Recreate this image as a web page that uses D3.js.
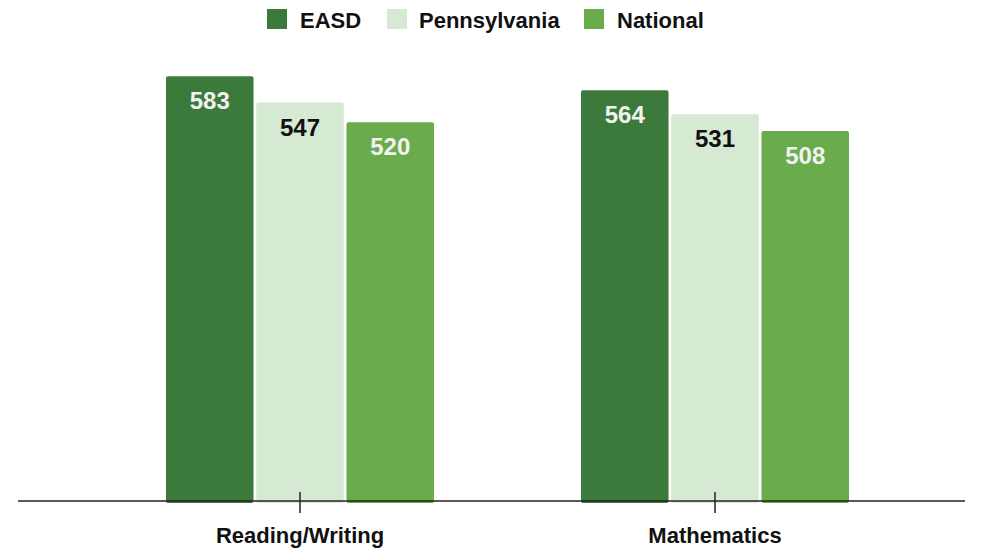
<!DOCTYPE html>
<html><head><meta charset="utf-8">
<script src="https://cdn.jsdelivr.net/npm/d3@7"></script>
<style>body{margin:0;background:#fff}svg{display:block}</style>
</head><body><svg id="c" width="982" height="548"></svg>
<script>
const categories = ["Reading/Writing", "Mathematics"];
const seriesNames = ["EASD", "Pennsylvania", "National"];
const easd = [583, 564];
const pennsylvania = [547, 531];
const national = [520, 508];
const colors = ["#3b7a3b", "#d6e9d3", "#6aab4c"];
const labelColors = ["#f2f2f2", "#111111", "#f2f2f2"];

const values = [easd, pennsylvania, national];
const svg = d3.select("#c");
const baseY = 501;
const y = d3.scaleLinear().domain([0, 600]).range([baseY, baseY - 600 * 0.7285]);
const x0 = d3.scaleBand().domain(categories).range([92.5, 922.5]).padding(0);
const x1 = d3.scaleBand().domain(seriesNames).range([73.5, 341.5]).paddingInner(0.03).paddingOuter(0);

categories.forEach((cat, ci) => {
  const g = svg.append("g").attr("transform", `translate(${x0(cat)},0)`);
  seriesNames.forEach((s, si) => {
    const v = values[si][ci];
    g.append("rect")
      .attr("x", x1(s)).attr("y", y(v))
      .attr("width", x1.bandwidth()).attr("height", y(0) - y(v) + 2)
      .attr("rx", 2).attr("fill", colors[si]);
    g.append("text")
      .attr("x", x1(s) + x1.bandwidth() / 2).attr("y", y(v) + 33)
      .attr("text-anchor", "middle")
      .attr("font-family", "Liberation Sans, Arial, sans-serif")
      .attr("font-weight", "bold").attr("font-size", 24)
      .attr("fill", labelColors[si]).text(v);
  });
});

// baseline axis
svg.append("line").attr("x1", 18).attr("x2", 965).attr("y1", baseY).attr("y2", baseY)
  .attr("stroke", "#222").attr("stroke-width", 1.5);
const axis = d3.axisBottom(x0).tickSize(0).tickPadding(0);
const ag = svg.append("g").attr("transform", `translate(0,${baseY})`).call(axis);
ag.select(".domain").remove();
ag.selectAll(".tick line").remove();
ag.selectAll(".tick").append("line").attr("y1", -9).attr("y2", 12).attr("stroke", "#222").attr("stroke-width", 1.5);
ag.selectAll(".tick text")
  .attr("y", 42).attr("dy", 0)
  .attr("font-family", "Liberation Sans, Arial, sans-serif")
  .attr("font-weight", "bold").attr("font-size", 22).attr("fill", "#111");

// legend
const legendX = [267, 387, 584];
const legendTextX = [300, 419, 617];
const lg = svg.append("g");
seriesNames.forEach((s, i) => {
  lg.append("rect").attr("x", legendX[i]).attr("y", 9).attr("width", 20).attr("height", 20).attr("fill", colors[i]);
  lg.append("text").attr("x", legendTextX[i]).attr("y", 28)
    .attr("font-family", "Liberation Sans, Arial, sans-serif")
    .attr("font-weight", "bold").attr("font-size", 22).attr("fill", "#111").text(s);
});
</script></body></html>
